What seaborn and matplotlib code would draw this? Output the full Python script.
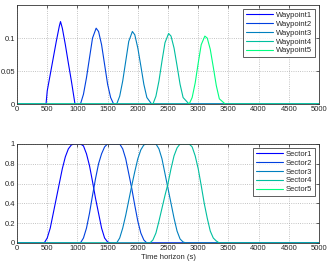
import pandas as pd
import matplotlib
matplotlib.use('Agg')
import matplotlib.pyplot as plt
import seaborn as sns

# waypoint curves (time s, value)
wp1_t = [0, 480, 500, 550, 600, 650, 700, 720, 750, 800, 850, 900, 960, 5000]
wp1_v = [0, 0, 0.02, 0.045, 0.07, 0.095, 0.118, 0.125, 0.115, 0.09, 0.062, 0.035, 0, 0]
wp2_t = [0, 1050, 1100, 1150, 1200, 1250, 1310, 1350, 1400, 1450, 1500, 1550, 1600, 5000]
wp2_v = [0, 0, 0.015, 0.04, 0.07, 0.1, 0.115, 0.11, 0.09, 0.06, 0.03, 0.01, 0, 0]
wp3_t = [0, 1650, 1700, 1750, 1800, 1850, 1910, 1950, 2000, 2050, 2100, 2150, 2230, 5000]
wp3_v = [0, 0, 0.012, 0.035, 0.065, 0.095, 0.11, 0.105, 0.085, 0.058, 0.03, 0.01, 0, 0]
wp4_t = [0, 2250, 2300, 2350, 2400, 2450, 2510, 2550, 2600, 2650, 2700, 2750, 2850, 5000]
wp4_v = [0, 0, 0.012, 0.035, 0.065, 0.093, 0.107, 0.103, 0.085, 0.058, 0.03, 0.01, 0, 0]
wp5_t = [0, 2850, 2900, 2950, 3000, 3050, 3110, 3150, 3200, 3250, 3300, 3350, 3450, 5000]
wp5_v = [0, 0, 0.01, 0.032, 0.062, 0.09, 0.103, 0.1, 0.083, 0.056, 0.028, 0.008, 0, 0]

# sector curves
s1_t = [0, 450, 500, 550, 600, 650, 700, 750, 800, 850, 900, 950, 1050, 1100, 1150, 1200,
        1250, 1300, 1350, 1400, 1450, 1500, 1550, 5000]
s1_v = [0, 0, 0.05, 0.15, 0.3, 0.45, 0.6, 0.75, 0.87, 0.95, 0.99, 1, 1, 0.98, 0.9, 0.78,
        0.62, 0.45, 0.3, 0.15, 0.05, 0.01, 0, 0]
s2_t = [0, 1050, 1100, 1150, 1200, 1250, 1300, 1350, 1400, 1450, 1500, 1700, 1750, 1800,
        1850, 1900, 1950, 2000, 2050, 2100, 2150, 5000]
s2_v = [0, 0, 0.05, 0.15, 0.3, 0.48, 0.65, 0.8, 0.9, 0.97, 1, 1, 0.95, 0.85,
        0.7, 0.55, 0.38, 0.22, 0.1, 0.03, 0, 0]
s3_t = [0, 1650, 1700, 1750, 1800, 1850, 1900, 1950, 2000, 2050, 2100, 2150, 2300, 2350,
        2400, 2450, 2500, 2550, 2600, 2650, 2700, 2750, 2800, 5000]
s3_v = [0, 0, 0.05, 0.15, 0.28, 0.43, 0.58, 0.72, 0.85, 0.94, 0.99, 1, 1, 0.95,
        0.85, 0.7, 0.55, 0.4, 0.25, 0.12, 0.04, 0.01, 0, 0]
s4_t = [0, 2200, 2250, 2300, 2350, 2400, 2450, 2500, 2550, 2600, 2650, 2700, 2850, 2900,
        2950, 3000, 3050, 3100, 3150, 3200, 3250, 3300, 3350, 5000]
s4_v = [0, 0, 0.03, 0.1, 0.22, 0.35, 0.48, 0.6, 0.75, 0.88, 0.96, 1, 1, 0.97,
        0.88, 0.75, 0.58, 0.4, 0.25, 0.12, 0.05, 0.02, 0, 0]
s5_t = [0, 5000]
s5_v = [0, 0]

wp_labels = ['Waypoint1', 'Waypoint2', 'Waypoint3', 'Waypoint4', 'Waypoint5']
sec_labels = ['Sector1', 'Sector2', 'Sector3', 'Sector4', 'Sector5']
colors = [(0, 0, 1), (0, 0.25, 0.875), (0, 0.5, 0.75), (0, 0.75, 0.625), (0, 1, 0.5)]

sns.set_style('white')
plt.rcParams['font.family'] = ['Liberation Sans', 'DejaVu Sans']
plt.rcParams['font.size'] = 5.5

fig = plt.figure(figsize=(3.34, 2.67), dpi=100)
ax1 = fig.add_axes([0.051, 0.61, 0.904, 0.371])
ax2 = fig.add_axes([0.051, 0.09, 0.904, 0.371])

wp = [(wp1_t, wp1_v), (wp2_t, wp2_v), (wp3_t, wp3_v), (wp4_t, wp4_v), (wp5_t, wp5_v)]
for (t, v), lab, c in zip(wp, wp_labels, colors):
    sns.lineplot(x=t, y=v, ax=ax1, color=c, label=lab, linewidth=0.8, sort=False)

sec = [(s1_t, s1_v), (s2_t, s2_v), (s3_t, s3_v), (s4_t, s4_v), (s5_t, s5_v)]
for (t, v), lab, c in zip(sec, sec_labels, colors):
    sns.lineplot(x=t, y=v, ax=ax2, color=c, label=lab, linewidth=0.8, sort=False)

for ax in (ax1, ax2):
    ax.set_xlim(0, 5000)
    ax.set_xticks(range(0, 5001, 500))
    ax.grid(True, linestyle=':', color='#b0b0b0', linewidth=0.6)
    for s in ax.spines.values():
        s.set_color('#333333')
        s.set_linewidth(0.6)
    ax.tick_params(direction='in', length=2, width=0.5, labelsize=5.5, pad=1.5,
                   top=True, right=True)
    leg = ax.legend(loc='upper right', fontsize=5.5, frameon=True, fancybox=False,
                    edgecolor='#333333', handlelength=3.6, borderpad=0.35,
                    labelspacing=0.2, handletextpad=0.4, borderaxespad=0.5)
    leg.get_frame().set_linewidth(0.7)

ax1.set_ylim(0, 0.15)
ax1.set_yticks([0, 0.05, 0.1])
ax1.set_yticklabels(['0', '0.05', '0.1'])
ax2.set_ylim(0, 1)
ax2.set_yticks([0, 0.2, 0.4, 0.6, 0.8, 1])
ax2.set_yticklabels(['0', '0.2', '0.4', '0.6', '0.8', '1'])
ax2.set_xlabel('Time horizon (s)', fontsize=5.5, labelpad=1.5)

fig.savefig('out.png', dpi=100)
